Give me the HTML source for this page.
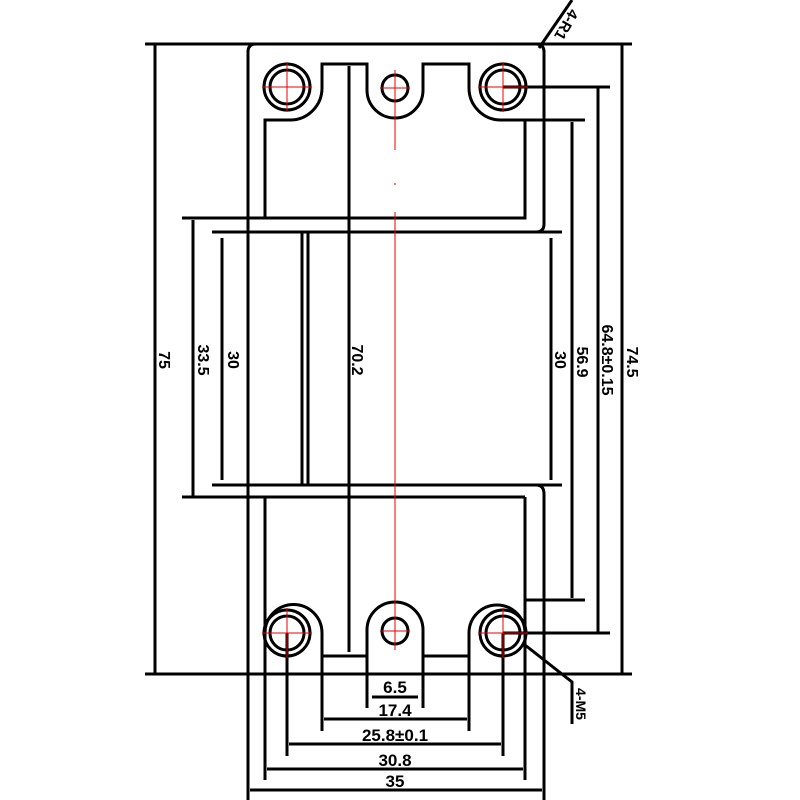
<!DOCTYPE html>
<html><head><meta charset="utf-8"><style>
html,body{margin:0;padding:0;background:#fff}
svg{display:block}
text{font-family:"Liberation Sans",sans-serif;font-size:16px;font-weight:bold;fill:#000}
</style></head><body>
<svg width="800" height="800" viewBox="0 0 800 800" xmlns="http://www.w3.org/2000/svg">
<g stroke="#000" stroke-width="3" fill="none" stroke-linecap="butt">
<line x1="145" y1="44" x2="632" y2="44"/>
<line x1="145" y1="674" x2="632" y2="674"/>
<path d="M248,800 L248,52 Q248,44 256,44 L536,44 Q544,44 544,52 L544,224 Q544,232 536,232"/>
<path d="M544,800 L544,494 Q544,485 536,485"/>
<line x1="182" y1="218" x2="265" y2="218"/>
<line x1="182" y1="497" x2="265" y2="497"/>
<line x1="212" y1="232" x2="540" y2="232"/>
<line x1="212" y1="485" x2="540" y2="485"/>
<line x1="540" y1="232" x2="562" y2="232"/>
<line x1="540" y1="485" x2="562" y2="485"/>
<line x1="302" y1="232" x2="302" y2="485"/>
<line x1="308" y1="232" x2="308" y2="485"/>
<path d="M265,218 L265,120 L290,120 A32,32 0 0 0 322,88 L322,64 L367,64 L367,90 A28,28 0 0 0 423,90 L423,64 L469,64 L469,88 A32,32 0 0 0 501,120 L525,120 L525,218 Z"/>
<path d="M265,497 L265,780 M265,497 L525,497 M265,633 A28.5,28.5 0 0 1 322,633 L322,656 L367,656 L367,630 A28,28 0 0 1 423,630 L423,656 L469,656 L469,633 A28,28 0 0 1 525,633 M525,497 L525,780"/>
<line x1="322" y1="656" x2="322" y2="731"/>
<line x1="469" y1="656" x2="469" y2="731"/>
<line x1="367" y1="656" x2="367" y2="708"/>
<line x1="423" y1="656" x2="423" y2="708"/>
<line x1="287" y1="633" x2="287" y2="756"/>
<line x1="503" y1="633" x2="503" y2="756"/>
<circle cx="287" cy="87" r="23"/><circle cx="287" cy="87" r="17"/>
<circle cx="503" cy="87" r="23"/><circle cx="503" cy="87" r="17"/>
<circle cx="287" cy="633" r="23"/><circle cx="287" cy="633" r="17"/>
<circle cx="503" cy="633" r="23"/><circle cx="503" cy="633" r="17"/>
<circle cx="395" cy="88" r="13"/><circle cx="395" cy="631" r="13"/>
<line x1="155" y1="44" x2="155" y2="674"/>
<line x1="193" y1="220" x2="193" y2="496"/>
<line x1="222" y1="238" x2="222" y2="480"/>
<line x1="349" y1="66" x2="349" y2="652"/>
<line x1="551" y1="238" x2="551" y2="480"/>
<line x1="525" y1="120" x2="585" y2="120"/>
<line x1="525" y1="600" x2="585" y2="600"/>
<line x1="572" y1="122" x2="572" y2="598"/>
<line x1="503" y1="87" x2="610" y2="87"/>
<line x1="503" y1="633" x2="610" y2="633"/>
<line x1="598" y1="88" x2="598" y2="632"/>
<line x1="622" y1="44" x2="622" y2="674"/>
<line x1="372" y1="697" x2="418" y2="697"/>
<line x1="324" y1="719" x2="467" y2="719"/>
<line x1="289" y1="744" x2="501" y2="744"/>
<line x1="267" y1="769" x2="523" y2="769"/>
<line x1="250" y1="790" x2="542" y2="790"/>
<line x1="539" y1="48" x2="572" y2="0"/>
<polyline points="525,645 572,682 572,724"/>
</g>
<g stroke="#e00" stroke-width="1">
<line x1="395" y1="70" x2="395" y2="150"/>
<line x1="395" y1="183" x2="395" y2="185"/>
<line x1="395" y1="212" x2="395" y2="650"/>
<line x1="262" y1="87" x2="312" y2="87"/><line x1="287" y1="62" x2="287" y2="112"/>
<line x1="478" y1="87" x2="528" y2="87"/><line x1="503" y1="62" x2="503" y2="112"/>
<line x1="262" y1="633" x2="312" y2="633"/><line x1="287" y1="608" x2="287" y2="658"/>
<line x1="478" y1="633" x2="528" y2="633"/><line x1="503" y1="608" x2="503" y2="658"/>
<line x1="380" y1="88" x2="410" y2="88"/>
<line x1="380" y1="631" x2="410" y2="631"/>
</g>
<g text-anchor="middle">
<text transform="translate(159,360) rotate(90)">75</text>
<text transform="translate(198,360) rotate(90)">33.5</text>
<text transform="translate(228,360) rotate(90)">30</text>
<text transform="translate(352,360) rotate(90)">70.2</text>
<text transform="translate(555,360) rotate(90)">30</text>
<text transform="translate(577,362) rotate(90)">56.9</text>
<text transform="translate(602,360) rotate(90)">64.8±0.15</text>
<text transform="translate(627,362) rotate(90)">74.5</text>
<text x="395" y="693" style="font-size:17px">6.5</text>
<text x="395" y="716" style="font-size:17px">17.4</text>
<text x="395" y="741" style="font-size:17px">25.8±0.1</text>
<text x="395" y="766" style="font-size:17px">30.8</text>
<text x="395" y="787" style="font-size:17px">35</text>
<text transform="translate(562,22) rotate(120)" style="font-size:15px">4-R1</text>
<text transform="translate(576,704) rotate(90)" style="font-size:14px">4-M5</text>
</g>
</svg>
</body></html>
